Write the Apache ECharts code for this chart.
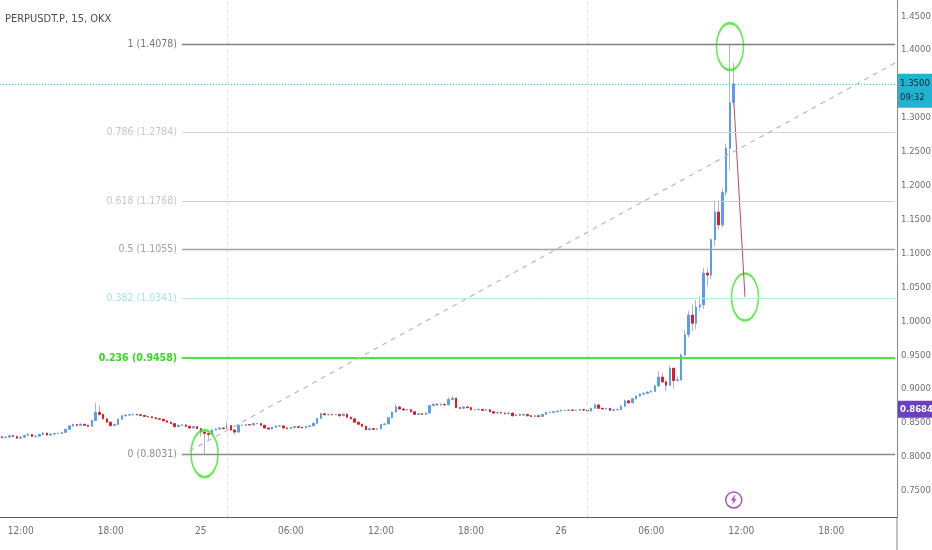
<!DOCTYPE html>
<html lang="en">
  <head>
    <meta charset="UTF-8" />
    <title>PERPUSDT.P 15 OKX</title>
    <style>
      html, body { margin: 0; padding: 0; background: #fff; }
      .box { width: 932px; height: 550px; }
    </style>
  </head>
  <body>
    <div class="box"></div>
    <script src="https://cdn.jsdelivr.net/npm/echarts@6/dist/echarts.min.js"></script>
    <script>
// 15 minute slots, the first one is 24th 10:45
var startDay = 24;
var startMinute = 10 * 60 + 45;
var slotCount = 239;

// tick labels on the time axis
var xTickSlots = ['24 12:00', '24 18:00', '25 00:00', '25 06:00', '25 12:00', '25 18:00', '26 00:00', '26 06:00', '26 12:00', '26 18:00'];
var xTickText = ['12:00', '18:00', '25', '06:00', '12:00', '18:00', '26', '06:00', '12:00', '18:00'];

// price scale ticks
var yTicks = [0.75, 0.80, 0.85, 0.90, 0.95, 1.00, 1.05, 1.10, 1.15, 1.20, 1.25, 1.30, 1.40, 1.45];

// candles: [open, close, low, high]
var candles = [
  [0.8295, 0.8285, 0.8270, 0.8305], [0.8285, 0.8290, 0.8275, 0.8300], [0.8290, 0.8310, 0.8280, 0.8320], [0.8310, 0.8300, 0.8290, 0.8330],
  [0.8300, 0.8275, 0.8265, 0.8305], [0.8275, 0.8290, 0.8270, 0.8300], [0.8290, 0.8315, 0.8285, 0.8325], [0.8315, 0.8330, 0.8305, 0.8345],
  [0.8330, 0.8300, 0.8290, 0.8335], [0.8300, 0.8305, 0.8290, 0.8315], [0.8305, 0.8330, 0.8300, 0.8340], [0.8330, 0.8350, 0.8320, 0.8365],
  [0.8350, 0.8320, 0.8310, 0.8355], [0.8320, 0.8335, 0.8315, 0.8345], [0.8335, 0.8345, 0.8325, 0.8350], [0.8345, 0.8345, 0.8335, 0.8355],
  [0.8345, 0.8360, 0.8340, 0.8370], [0.8360, 0.8405, 0.8355, 0.8415], [0.8405, 0.8455, 0.8400, 0.8465], [0.8455, 0.8475, 0.8445, 0.8490],
  [0.8475, 0.8465, 0.8455, 0.8485], [0.8465, 0.8480, 0.8460, 0.8490], [0.8480, 0.8465, 0.8455, 0.8485], [0.8465, 0.8450, 0.8440, 0.8470],
  [0.8450, 0.8535, 0.8445, 0.8550], [0.8535, 0.8655, 0.8530, 0.8795], [0.8655, 0.8625, 0.8610, 0.8760], [0.8625, 0.8560, 0.8550, 0.8635],
  [0.8560, 0.8510, 0.8500, 0.8570], [0.8510, 0.8460, 0.8445, 0.8520], [0.8460, 0.8475, 0.8450, 0.8490], [0.8475, 0.8555, 0.8470, 0.8565],
  [0.8555, 0.8605, 0.8550, 0.8615], [0.8605, 0.8615, 0.8595, 0.8625], [0.8615, 0.8620, 0.8605, 0.8635], [0.8620, 0.8625, 0.8610, 0.8640],
  [0.8625, 0.8620, 0.8610, 0.8635], [0.8620, 0.8610, 0.8600, 0.8630], [0.8610, 0.8595, 0.8585, 0.8620], [0.8595, 0.8590, 0.8580, 0.8605],
  [0.8590, 0.8575, 0.8565, 0.8600], [0.8575, 0.8560, 0.8550, 0.8585], [0.8560, 0.8555, 0.8545, 0.8570], [0.8555, 0.8530, 0.8520, 0.8560],
  [0.8530, 0.8510, 0.8500, 0.8540], [0.8510, 0.8490, 0.8480, 0.8520], [0.8490, 0.8445, 0.8435, 0.8495], [0.8445, 0.8465, 0.8440, 0.8475],
  [0.8465, 0.8470, 0.8455, 0.8480], [0.8470, 0.8450, 0.8440, 0.8480], [0.8450, 0.8425, 0.8415, 0.8460], [0.8425, 0.8445, 0.8420, 0.8455],
  [0.8445, 0.8415, 0.8405, 0.8450], [0.8415, 0.8365, 0.8300, 0.8420], [0.8365, 0.8345, 0.8031, 0.8375], [0.8345, 0.8330, 0.8250, 0.8355],
  [0.8330, 0.8395, 0.8325, 0.8405], [0.8395, 0.8410, 0.8385, 0.8420], [0.8410, 0.8425, 0.8400, 0.8440], [0.8425, 0.8415, 0.8405, 0.8435],
  [0.8415, 0.8460, 0.8410, 0.8520], [0.8460, 0.8395, 0.8385, 0.8470], [0.8395, 0.8365, 0.8330, 0.8405], [0.8365, 0.8465, 0.8360, 0.8480],
  [0.8465, 0.8465, 0.8455, 0.8475], [0.8465, 0.8475, 0.8460, 0.8485], [0.8475, 0.8470, 0.8460, 0.8480], [0.8470, 0.8490, 0.8465, 0.8500],
  [0.8490, 0.8490, 0.8480, 0.8500], [0.8490, 0.8465, 0.8455, 0.8495], [0.8465, 0.8425, 0.8415, 0.8470], [0.8425, 0.8410, 0.8400, 0.8430],
  [0.8410, 0.8435, 0.8405, 0.8445], [0.8435, 0.8455, 0.8430, 0.8465], [0.8455, 0.8455, 0.8445, 0.8465], [0.8455, 0.8425, 0.8415, 0.8460],
  [0.8425, 0.8415, 0.8405, 0.8430], [0.8415, 0.8430, 0.8410, 0.8440], [0.8430, 0.8445, 0.8425, 0.8455], [0.8445, 0.8435, 0.8425, 0.8450],
  [0.8435, 0.8425, 0.8415, 0.8440], [0.8425, 0.8445, 0.8420, 0.8455], [0.8445, 0.8455, 0.8440, 0.8465], [0.8455, 0.8495, 0.8450, 0.8505],
  [0.8495, 0.8565, 0.8490, 0.8575], [0.8565, 0.8635, 0.8560, 0.8650], [0.8635, 0.8620, 0.8610, 0.8645], [0.8620, 0.8625, 0.8610, 0.8635],
  [0.8625, 0.8620, 0.8610, 0.8635], [0.8620, 0.8625, 0.8615, 0.8635], [0.8625, 0.8605, 0.8595, 0.8635], [0.8605, 0.8630, 0.8600, 0.8640],
  [0.8630, 0.8585, 0.8575, 0.8635], [0.8585, 0.8560, 0.8550, 0.8595], [0.8560, 0.8510, 0.8500, 0.8570], [0.8510, 0.8480, 0.8470, 0.8520],
  [0.8480, 0.8450, 0.8440, 0.8490], [0.8450, 0.8400, 0.8390, 0.8460], [0.8400, 0.8415, 0.8390, 0.8425], [0.8415, 0.8405, 0.8395, 0.8425],
  [0.8405, 0.8410, 0.8395, 0.8420], [0.8410, 0.8475, 0.8405, 0.8485], [0.8475, 0.8485, 0.8465, 0.8495], [0.8485, 0.8575, 0.8480, 0.8585],
  [0.8575, 0.8660, 0.8570, 0.8670], [0.8660, 0.8735, 0.8655, 0.8775], [0.8735, 0.8705, 0.8695, 0.8745], [0.8705, 0.8690, 0.8680, 0.8720],
  [0.8690, 0.8695, 0.8680, 0.8705], [0.8695, 0.8665, 0.8655, 0.8705], [0.8665, 0.8625, 0.8615, 0.8670], [0.8625, 0.8635, 0.8615, 0.8645],
  [0.8635, 0.8625, 0.8615, 0.8645], [0.8625, 0.8645, 0.8620, 0.8655], [0.8645, 0.8755, 0.8640, 0.8765], [0.8755, 0.8775, 0.8745, 0.8785],
  [0.8775, 0.8765, 0.8755, 0.8785], [0.8765, 0.8775, 0.8755, 0.8785], [0.8775, 0.8765, 0.8755, 0.8780], [0.8765, 0.8845, 0.8760, 0.8880],
  [0.8845, 0.8865, 0.8835, 0.8890], [0.8865, 0.8725, 0.8715, 0.8870], [0.8725, 0.8715, 0.8705, 0.8735], [0.8715, 0.8735, 0.8710, 0.8745],
  [0.8735, 0.8725, 0.8715, 0.8740], [0.8725, 0.8695, 0.8685, 0.8730], [0.8695, 0.8695, 0.8685, 0.8705], [0.8695, 0.8700, 0.8690, 0.8710],
  [0.8700, 0.8685, 0.8675, 0.8705], [0.8685, 0.8695, 0.8680, 0.8705], [0.8695, 0.8665, 0.8655, 0.8700], [0.8665, 0.8645, 0.8635, 0.8670],
  [0.8645, 0.8655, 0.8640, 0.8665], [0.8655, 0.8645, 0.8635, 0.8660], [0.8645, 0.8635, 0.8625, 0.8650], [0.8635, 0.8645, 0.8630, 0.8655],
  [0.8645, 0.8605, 0.8595, 0.8650], [0.8605, 0.8620, 0.8600, 0.8630], [0.8620, 0.8615, 0.8605, 0.8630], [0.8615, 0.8625, 0.8610, 0.8635],
  [0.8625, 0.8605, 0.8595, 0.8630], [0.8605, 0.8595, 0.8585, 0.8615], [0.8595, 0.8605, 0.8590, 0.8615], [0.8605, 0.8595, 0.8585, 0.8610],
  [0.8595, 0.8625, 0.8590, 0.8635], [0.8625, 0.8655, 0.8620, 0.8665], [0.8655, 0.8655, 0.8645, 0.8665], [0.8655, 0.8665, 0.8650, 0.8675],
  [0.8665, 0.8675, 0.8660, 0.8685], [0.8675, 0.8685, 0.8670, 0.8695], [0.8685, 0.8685, 0.8675, 0.8695], [0.8685, 0.8690, 0.8680, 0.8700],
  [0.8690, 0.8685, 0.8675, 0.8700], [0.8685, 0.8685, 0.8675, 0.8695], [0.8685, 0.8695, 0.8680, 0.8705], [0.8695, 0.8690, 0.8680, 0.8705],
  [0.8690, 0.8675, 0.8665, 0.8700], [0.8675, 0.8715, 0.8670, 0.8725], [0.8715, 0.8765, 0.8710, 0.8790], [0.8765, 0.8715, 0.8705, 0.8770],
  [0.8715, 0.8705, 0.8695, 0.8725], [0.8705, 0.8715, 0.8700, 0.8725], [0.8715, 0.8685, 0.8675, 0.8720], [0.8685, 0.8695, 0.8680, 0.8705],
  [0.8695, 0.8695, 0.8685, 0.8710], [0.8695, 0.8745, 0.8690, 0.8760], [0.8745, 0.8825, 0.8740, 0.8845], [0.8825, 0.8795, 0.8785, 0.8835],
  [0.8795, 0.8855, 0.8790, 0.8865], [0.8855, 0.8895, 0.8845, 0.8905], [0.8895, 0.8925, 0.8885, 0.8935], [0.8925, 0.8935, 0.8915, 0.8950],
  [0.8935, 0.8955, 0.8925, 0.8965], [0.8955, 0.8965, 0.8945, 0.8980], [0.8965, 0.9045, 0.8955, 0.9060], [0.9045, 0.9175, 0.9035, 0.9260],
  [0.9175, 0.9105, 0.9090, 0.9240], [0.9105, 0.9055, 0.8970, 0.9130], [0.9055, 0.9305, 0.9045, 0.9350], [0.9305, 0.9125, 0.9005, 0.9320],
  [0.9125, 0.9135, 0.9110, 0.9185], [0.9135, 0.9500, 0.9120, 0.9520], [0.9500, 0.9800, 0.9480, 0.9870], [0.9800, 1.0090, 0.9760, 1.0150],
  [1.0090, 0.9970, 0.9850, 1.0250], [0.9970, 1.0210, 0.9880, 1.0310], [1.0210, 1.0240, 1.0150, 1.0380], [1.0240, 1.0710, 1.0180, 1.0790],
  [1.0710, 1.0680, 1.0520, 1.0790], [1.0680, 1.1200, 1.0620, 1.1220], [1.1200, 1.1610, 1.1100, 1.1780], [1.1610, 1.1420, 1.1350, 1.1780],
  [1.1420, 1.1900, 1.1380, 1.1960], [1.1900, 1.2550, 1.1850, 1.2620], [1.2550, 1.3220, 1.2230, 1.4078], [1.3230, 1.3500, 1.3180, 1.3810]
];

// fibonacci retracement
var fibRatios = ['1', '0.786', '0.618', '0.5', '0.382', '0.236', '0'];
var fibPrices = [1.4078, 1.2784, 1.1768, 1.1055, 1.0341, 0.9458, 0.8031];
var fibStartSlot = 48;

// drawings on the chart
var trendLine = [[50, 0.8086], [238, 1.3808]];
var dropLine = [[195, 1.326], [198, 1.0357]];
var circles = [[54, 0.8046], [194, 1.4049], [198, 1.0357]];
var sessionBreaks = [60, 156];
var eventMark = [195, 0.7363];
var lastPrice = 1.35;
var lastPriceText = '1.3500\n09:32';
var lastPriceLabelAt = 1.3382;
var otherPrice = 0.8684;

var fibLineColors = ['#7d7d7d', '#d4d4d4', '#cdcdcd', '#a3a3a3', '#b4e9f0', '#4ee43a', '#8c8c8c'];
var fibTextColors = ['#777777', '#c6c6c6', '#c6c6c6', '#a2a2a2', '#a9e1e8', '#35d81f', '#8e8e8e'];
var fibLineWidths = [1.3, 1, 1, 1.3, 1, 2, 1.3];

var font = "'DejaVu Sans Condensed', 'Liberation Sans Narrow', 'Liberation Sans', sans-serif";

var slots = [];
for (var k = 0; k < slotCount; k++) {
  var t = startMinute + 15 * k;
  var m = t % 1440;
  var hh = String(Math.floor(m / 60)).padStart(2, '0');
  var mm = String(m % 60).padStart(2, '0');
  slots.push((startDay + Math.floor(t / 1440)) + ' ' + hh + ':' + mm);
}

var bodies = candles.map(function (c) {
  return [c[0], c[1], Math.min(c[0], c[1]), Math.max(c[0], c[1])];
});

var fibLines = fibPrices.map(function (p, i) {
  return [
    {
      coord: [slots[fibStartSlot], p],
      lineStyle: { color: fibLineColors[i], width: fibLineWidths[i], type: 'solid' },
      label: {
        show: true, position: 'start', distance: 5,
        formatter: fibRatios[i] + ' (' + p.toFixed(4) + ')',
        color: fibTextColors[i], fontSize: 10.5, fontFamily: font,
        fontWeight: i === 5 ? 'bold' : 'normal'
      }
    },
    { coord: [slots[slotCount - 1], p] }
  ];
});
fibLines.push([
  { coord: [slots[trendLine[0][0]], trendLine[0][1]], lineStyle: { color: '#b9b9b9', width: 1.2, type: [5, 5] }, label: { show: false } },
  { coord: [slots[trendLine[1][0]], trendLine[1][1]] }
]);

var guideLines = sessionBreaks.map(function (s) {
  return { xAxis: slots[s], lineStyle: { color: '#dfe2e8', width: 1, type: [4, 4] }, label: { show: false } };
});
guideLines.push({
  yAxis: lastPrice,
  lineStyle: { color: '#33bdd6', width: 1, type: [1, 2] },
  label: { show: false }
});
guideLines.push({
  yAxis: lastPriceLabelAt,
  lineStyle: { color: 'rgba(0,0,0,0)', width: 0 },
  label: {
    show: true, position: 'end', distance: 1, formatter: lastPriceText,
    backgroundColor: '#21b4d2', color: '#10222e', padding: [3, 3, 3, 2],
    fontSize: 9.5, lineHeight: 14, fontFamily: font
  }
});
guideLines.push({
  yAxis: otherPrice,
  lineStyle: { color: 'rgba(0,0,0,0)', width: 0 },
  label: {
    show: true, position: 'end', distance: 1, formatter: otherPrice.toFixed(4),
    backgroundColor: '#6a3fc4', color: '#ffffff', padding: [4, 2, 3, 2],
    fontSize: 9.5, fontWeight: 'bold', fontFamily: font
  }
});

var myChart = echarts.init(document.querySelector('.box'));

var option = {
  backgroundColor: '#ffffff',
  animation: false,
  title: {
    text: 'PERPUSDT.P, 15, OKX',
    left: 5, top: 14, padding: 0,
    textStyle: { fontSize: 11, fontWeight: 'normal', color: '#4d4d4d', fontFamily: font }
  },
  grid: { left: 0, right: 35, top: 0, bottom: 33, outerBoundsMode: 'none', containLabel: false },
  xAxis: {
    type: 'category',
    data: slots,
    boundaryGap: true,
    axisLine: { lineStyle: { color: '#5f5f5f', width: 1.2 } },
    axisTick: { show: false },
    splitLine: { show: false },
    axisLabel: {
      margin: 9,
      color: '#6f6f6f', fontSize: 10, fontFamily: font,
      interval: function (idx, val) { return xTickSlots.indexOf(val) >= 0; },
      formatter: function (val) { return xTickText[xTickSlots.indexOf(val)]; }
    }
  },
  yAxis: {
    type: 'value',
    position: 'right',
    min: 0.7112,
    max: 1.4737,
    axisLine: { show: true, lineStyle: { color: '#8a8a8a', width: 1 } },
    axisTick: { show: false },
    splitLine: { show: false },
    axisLabel: {
      margin: 4,
      color: '#6f6f6f', fontSize: 9.5, fontFamily: font,
      customValues: yTicks,
      formatter: function (v) { return v.toFixed(4); }
    }
  },
  graphic: [
    { type: 'line', shape: { x1: 897, y1: 517, x2: 897, y2: 550 }, style: { stroke: '#8a8a8a', lineWidth: 1 }, silent: true }
  ],
  series: [
    {
      name: 'wick',
      type: 'candlestick',
      data: candles,
      barWidth: 1,
      itemStyle: {
        color: '#b4b6bd', color0: '#b4b6bd',
        borderColor: '#b4b6bd', borderColor0: '#b4b6bd', borderColorDoji: '#b4b6bd',
        borderWidth: 1
      },
      markLine: { silent: true, symbol: ['none', 'none'], data: guideLines }
    },
    {
      name: 'body',
      type: 'candlestick',
      data: bodies,
      barWidth: 2,
      itemStyle: {
        color: '#5a9cf2', color0: '#e41b22',
        borderColor: '#5a9cf2', borderColor0: '#e41b22', borderColorDoji: '#5a9cf2',
        borderWidth: 1
      },
      markLine: { silent: true, symbol: ['none', 'none'], data: fibLines }
    },
    {
      name: 'drop',
      type: 'line',
      data: dropLine.map(function (p) { return [slots[p[0]], p[1]]; }),
      symbol: 'none',
      lineStyle: { color: '#bf4a62', width: 1 },
      silent: true
    },
    {
      name: 'circles',
      type: 'scatter',
      data: circles.map(function (p) { return [slots[p[0]], p[1]]; }),
      symbol: 'circle',
      symbolSize: [27, 47],
      itemStyle: { color: 'rgba(0,0,0,0)', borderColor: '#3ee62a', borderWidth: 2 },
      silent: true
    },
    {
      name: 'event',
      type: 'scatter',
      data: [[slots[eventMark[0]], eventMark[1]]],
      symbol: 'circle',
      symbolSize: 16,
      itemStyle: { color: '#ffffff', borderColor: '#9b2bb0', borderWidth: 1.5 },
      silent: true,
      z: 5
    },
    {
      name: 'eventBolt',
      type: 'scatter',
      data: [[slots[eventMark[0]], eventMark[1]]],
      symbol: 'path://M6,0 L0,9 L4,9 L2,16 L9,6 L5,6 L7,0 Z',
      symbolSize: [6, 10],
      itemStyle: { color: '#9b2bb0' },
      silent: true,
      z: 6
    }
  ]
};

myChart.setOption(option);
    </script>
  </body>
</html>
